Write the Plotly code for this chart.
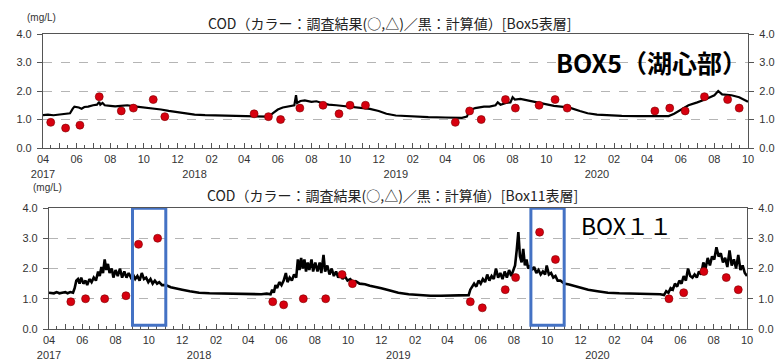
import plotly.graph_objects as go
import pandas as pd

# ---------------- data ----------------
y_tickvals = [0, 1, 2, 3, 4]
y_ticktext = ["0.0", "1.0", "2.0", "3.0", "4.0"]

title_box5 = "COD（カラー：調査結果(○,△)／黒：計算値）[Box5表層]"
title_box11 = "COD（カラー：調査結果(○,△)／黒：計算値）[Box11表層]"
label_box5 = "BOX5（湖心部）"
label_box11 = "BOX１１"
unit_label = "(mg/L)"

# BOX5 observations (red dots)
box5_obs_dates = ["2017-04-15", "2017-05-12", "2017-06-07", "2017-07-12", "2017-08-21", "2017-09-12",
                  "2017-10-18", "2017-11-08", "2018-04-19", "2018-05-15", "2018-06-06", "2018-07-11",
                  "2018-08-22", "2018-09-20", "2018-10-10", "2018-11-07", "2019-04-19", "2019-05-15",
                  "2019-06-05", "2019-07-19", "2019-08-06", "2019-09-18", "2019-10-17", "2019-11-08",
                  "2020-04-15", "2020-05-12", "2020-06-09", "2020-07-14", "2020-08-25", "2020-09-15"]
box5_obs = [0.9, 0.7, 0.8, 1.8, 1.3, 1.4, 1.7, 1.1, 1.2, 1.1, 1.0, 1.4,
            1.5, 1.2, 1.5, 1.5, 0.9, 1.3, 1.0, 1.7, 1.4, 1.5, 1.7, 1.4,
            1.3, 1.4, 1.3, 1.8, 1.7, 1.4]

# BOX5 simulated (black line)
box5_calc_dates = ["2017-04-01", "2017-04-10", "2017-04-20", "2017-05-01", "2017-05-15", "2017-05-20",
                   "2017-05-25", "2017-05-28", "2017-06-05", "2017-06-10", "2017-06-15", "2017-06-22",
                   "2017-07-01", "2017-07-08", "2017-07-12", "2017-07-14", "2017-07-18", "2017-07-22",
                   "2017-08-01", "2017-08-10", "2017-08-20", "2017-09-01", "2017-09-10", "2017-09-20",
                   "2017-10-01", "2017-10-15", "2017-11-01", "2017-11-15", "2017-12-01", "2017-12-15",
                   "2018-01-01", "2018-01-20", "2018-02-10", "2018-03-01", "2018-03-20", "2018-04-10",
                   "2018-05-01", "2018-05-15", "2018-05-25", "2018-06-01", "2018-06-10", "2018-06-20",
                   "2018-07-01", "2018-07-04", "2018-07-06", "2018-07-12", "2018-07-20", "2018-08-01",
                   "2018-08-10", "2018-08-20", "2018-09-01", "2018-09-15", "2018-10-01", "2018-10-15",
                   "2018-11-01", "2018-11-15", "2018-12-01", "2018-12-15", "2019-01-01", "2019-02-01",
                   "2019-03-01", "2019-04-01", "2019-05-01", "2019-05-10", "2019-05-15", "2019-05-25",
                   "2019-06-01", "2019-06-10", "2019-06-20", "2019-07-01", "2019-07-05", "2019-07-10",
                   "2019-07-20", "2019-07-28", "2019-08-01", "2019-08-05", "2019-08-15", "2019-09-01",
                   "2019-09-15", "2019-10-01", "2019-10-15", "2019-11-01", "2019-11-15", "2019-12-01",
                   "2019-12-15", "2020-01-01", "2020-01-20", "2020-02-15", "2020-03-15", "2020-04-15",
                   "2020-05-01", "2020-05-10", "2020-05-20", "2020-06-01", "2020-06-15", "2020-07-01",
                   "2020-07-15", "2020-08-01", "2020-08-08", "2020-08-15", "2020-09-01", "2020-09-15",
                   "2020-10-01"]
box5_calc = [1.15, 1.17, 1.15, 1.18, 1.2, 1.22,
             1.38, 1.45, 1.42, 1.38, 1.44, 1.45,
             1.5, 1.52, 1.62, 1.52, 1.58, 1.5,
             1.48, 1.46, 1.48, 1.5, 1.47, 1.45,
             1.43, 1.4, 1.35, 1.3, 1.25, 1.2,
             1.17, 1.15, 1.14, 1.13, 1.12, 1.12,
             1.11, 1.1, 1.25, 1.35, 1.42, 1.45,
             1.5, 1.85, 1.58, 1.65, 1.67, 1.62,
             1.64, 1.58, 1.52, 1.5, 1.47, 1.44,
             1.4, 1.37, 1.3, 1.2, 1.14, 1.1,
             1.08, 1.07, 1.06, 1.1, 1.32, 1.4,
             1.42, 1.45, 1.45, 1.5, 1.6, 1.52,
             1.58, 1.6, 1.78, 1.7, 1.72, 1.65,
             1.6, 1.52, 1.48, 1.44, 1.4, 1.3,
             1.22, 1.17, 1.15, 1.13, 1.12, 1.12,
             1.1, 1.12, 1.2, 1.35, 1.5, 1.6,
             1.7, 1.85, 2.0, 1.88, 1.85, 1.78,
             1.62]

# BOX11 observations (red dots)
box11_obs_dates = ["2017-05-11", "2017-06-07", "2017-07-12", "2017-08-20", "2017-09-12", "2017-10-17",
                   "2018-05-16", "2018-06-05", "2018-07-11", "2018-08-21", "2018-09-20", "2018-10-09",
                   "2019-05-13", "2019-06-04", "2019-07-16", "2019-08-04", "2019-09-17", "2019-10-16",
                   "2020-05-11", "2020-06-07", "2020-07-14", "2020-08-24", "2020-09-15"]
box11_obs = [0.9, 1.0, 1.0, 1.1, 2.8, 3.0,
             0.9, 0.8, 1.0, 1.0, 1.8, 1.5,
             0.9, 0.7, 1.3, 1.7, 3.2, 2.3,
             1.0, 1.2, 1.9, 1.7, 1.3]

# BOX11 simulated (black line)
box11_calc_dates = [
    "2017-04-01", "2017-04-10", "2017-04-15", "2017-04-20", "2017-04-25", "2017-05-01", "2017-05-05",
    "2017-05-10", "2017-05-15", "2017-05-18", "2017-05-21", "2017-05-24", "2017-05-27", "2017-05-30",
    "2017-06-03", "2017-06-07", "2017-06-10", "2017-06-14", "2017-06-18", "2017-06-22", "2017-06-26",
    "2017-06-30", "2017-07-03", "2017-07-06", "2017-07-09", "2017-07-12", "2017-07-15", "2017-07-18",
    "2017-07-21", "2017-07-25", "2017-07-28", "2017-08-01", "2017-08-05", "2017-08-09", "2017-08-13",
    "2017-08-17", "2017-08-21", "2017-08-25", "2017-08-29", "2017-09-02", "2017-09-06", "2017-09-10",
    "2017-09-14", "2017-09-18", "2017-09-22", "2017-09-26", "2017-09-30", "2017-10-04", "2017-10-08",
    "2017-10-12", "2017-10-16", "2017-10-20", "2017-10-25", "2017-11-01", "2017-11-10", "2017-11-20",
    "2017-12-01", "2017-12-15", "2018-01-01", "2018-01-20", "2018-02-10", "2018-03-01", "2018-03-20",
    "2018-04-10", "2018-04-25", "2018-05-05", "2018-05-12", "2018-05-15", "2018-05-18", "2018-05-21",
    "2018-05-24", "2018-05-28", "2018-06-01", "2018-06-05", "2018-06-09", "2018-06-12", "2018-06-16",
    "2018-06-20", "2018-06-24", "2018-06-28", "2018-07-01", "2018-07-04", "2018-07-07", "2018-07-10",
    "2018-07-13", "2018-07-16", "2018-07-19", "2018-07-22", "2018-07-26", "2018-07-29", "2018-08-02",
    "2018-08-06", "2018-08-10", "2018-08-13", "2018-08-17", "2018-08-20", "2018-08-24", "2018-08-28",
    "2018-09-01", "2018-09-05", "2018-09-09", "2018-09-13", "2018-09-17", "2018-09-21", "2018-09-25",
    "2018-09-30", "2018-10-05", "2018-10-10", "2018-10-15", "2018-10-22", "2018-11-01", "2018-11-10",
    "2018-11-20", "2018-12-01", "2018-12-15", "2019-01-01", "2019-01-20", "2019-02-10", "2019-03-01",
    "2019-03-20", "2019-04-10", "2019-04-25", "2019-05-05", "2019-05-10", "2019-05-13", "2019-05-16",
    "2019-05-20", "2019-05-24", "2019-05-28", "2019-06-01", "2019-06-05", "2019-06-09", "2019-06-13",
    "2019-06-17", "2019-06-21", "2019-06-25", "2019-06-29", "2019-07-03", "2019-07-07", "2019-07-11",
    "2019-07-15", "2019-07-19", "2019-07-23", "2019-07-27", "2019-07-31", "2019-08-03", "2019-08-06",
    "2019-08-09", "2019-08-12", "2019-08-15", "2019-08-18", "2019-08-21", "2019-08-24", "2019-08-27",
    "2019-08-31", "2019-09-03", "2019-09-07", "2019-09-11", "2019-09-15", "2019-09-19", "2019-09-23",
    "2019-09-27", "2019-09-30", "2019-10-04", "2019-10-08", "2019-10-12", "2019-10-16", "2019-10-20",
    "2019-10-25", "2019-11-01", "2019-11-10", "2019-11-20", "2019-12-01", "2019-12-15", "2020-01-01",
    "2020-01-20", "2020-02-10", "2020-03-01", "2020-03-20", "2020-04-10", "2020-04-25", "2020-05-02",
    "2020-05-06", "2020-05-10", "2020-05-14", "2020-05-18", "2020-05-22", "2020-05-26", "2020-05-30",
    "2020-06-03", "2020-06-07", "2020-06-11", "2020-06-15", "2020-06-19", "2020-06-23", "2020-06-27",
    "2020-07-01", "2020-07-05", "2020-07-09", "2020-07-13", "2020-07-17", "2020-07-21", "2020-07-25",
    "2020-07-29", "2020-08-02", "2020-08-06", "2020-08-10", "2020-08-14", "2020-08-18", "2020-08-22",
    "2020-08-26", "2020-08-30", "2020-09-03", "2020-09-07", "2020-09-11", "2020-09-15", "2020-09-19",
    "2020-09-23", "2020-09-27", "2020-10-01"]
box11_calc = [
    1.2, 1.18, 1.22, 1.18, 1.2, 1.22, 1.18,
    1.22, 1.2, 1.35, 1.6, 1.65, 1.5, 1.7,
    1.5, 1.6, 1.45, 1.65, 1.55, 1.7, 1.6,
    1.9, 1.75, 2.05, 1.85, 2.3, 1.95, 2.15,
    1.85, 2.0, 1.7, 1.95, 1.75, 2.0, 1.7,
    1.9, 1.7, 1.85, 1.7, 1.8, 1.65, 1.75,
    1.6, 1.85, 1.65, 1.7, 1.55, 1.65, 1.5,
    1.6, 1.5, 1.55, 1.45, 1.45, 1.38, 1.35,
    1.3, 1.25, 1.2, 1.18, 1.17, 1.16, 1.15,
    1.15, 1.15, 1.17, 1.15, 1.3, 1.2, 1.45,
    1.35, 1.55, 1.45, 1.6, 1.85, 1.55, 1.7,
    1.6, 1.8, 1.7, 2.3, 1.95, 2.35, 2.0,
    2.3, 1.9, 2.2, 1.95, 2.3, 1.9, 2.2,
    1.9, 2.2, 1.85, 2.45, 1.9, 2.1, 1.8,
    2.0, 1.75, 1.9, 1.7, 1.85, 1.65, 1.75,
    1.6, 1.65, 1.55, 1.58, 1.5, 1.48, 1.43,
    1.4, 1.35, 1.28, 1.2, 1.15, 1.12, 1.1,
    1.1, 1.1, 1.1, 1.12, 1.12, 1.3, 1.4,
    1.5, 1.4, 1.6, 1.5, 1.65, 1.55, 1.8,
    1.6, 1.75, 1.65, 2.0, 1.7, 1.85, 1.65,
    1.9, 1.7, 1.95, 1.75, 2.0, 2.1, 2.6,
    3.2, 2.4, 2.2, 2.65, 2.1, 2.3, 2.0,
    2.1, 1.95, 2.05, 1.85, 1.95, 1.8, 1.9,
    1.8, 2.1, 1.8, 1.85, 1.7, 1.75, 1.6,
    1.6, 1.5, 1.47, 1.42, 1.37, 1.3, 1.25,
    1.2, 1.18, 1.17, 1.16, 1.15, 1.15, 1.12,
    1.25, 1.2, 1.35, 1.3, 1.5, 1.4, 1.6,
    1.5, 1.75, 1.6, 2.0, 1.75, 1.7, 1.8,
    1.7, 1.9, 1.8, 2.2, 2.0, 2.35, 2.1,
    2.4, 2.3, 2.7, 2.4, 2.5, 2.2, 2.35,
    2.05, 2.6, 2.1, 2.3, 2.0, 2.45, 1.95,
    2.1, 1.85, 1.75]

x_start, x_end = "2017-04-01", "2020-10-01"

# ---------------- ticks ----------------
months = pd.date_range(x_start, x_end, freq="MS")
mid_months = [d + pd.Timedelta(days=14) for d in months[:-1]]
x_ticktext = []
for i, d in enumerate(months):
    if i == 0:
        x_ticktext.append(f"{d.month:02d}<br>{d.year}")
    elif d.month == 1:
        x_ticktext.append(f"\u00a0<br>{d.year}")
    elif d.month % 2 == 0:
        x_ticktext.append(f"{d.month:02d}")
    else:
        x_ticktext.append("")

W, H = 778, 363
TICKFONT = dict(family="Liberation Sans, Arial, sans-serif", size=11, color="#333333")
JPFONT = "Noto Sans CJK JP, sans-serif"
AXC = "#555555"

fig = go.Figure()

def add_panel(xa, ya_line, ya_pts, dates_c, vals_c, dates_o, vals_o, lw):
    fig.add_trace(go.Scatter(x=dates_c, y=vals_c, mode="lines",
                             line=dict(color="black", width=lw),
                             xaxis=xa, yaxis=ya_line, showlegend=False, hoverinfo="skip"))
    fig.add_trace(go.Scatter(x=dates_o, y=vals_o, mode="markers",
                             marker=dict(color="#d7000f", size=8, line=dict(color="#7a0000", width=0.6)),
                             xaxis=xa, yaxis=ya_pts, showlegend=False))

add_panel("x", "y", "y3", box5_calc_dates, box5_calc, box5_obs_dates, box5_obs, 2.2)
add_panel("x2", "y2", "y4", box11_calc_dates, box11_calc, box11_obs_dates, box11_obs, 2.6)

def px_x(p):
    return p / W

def px_y(p):
    return 1 - p / H

def xaxis_cfg(dom, anchor):
    return dict(domain=dom, anchor=anchor, type="date", range=[x_start, x_end],
                tickmode="array", tickvals=list(months), ticktext=x_ticktext,
                ticks="inside", ticklen=5, tickwidth=1, tickcolor=AXC,
                minor=dict(tickmode="array", tickvals=mid_months, ticks="inside",
                           ticklen=2.5, tickwidth=1, tickcolor=AXC, showgrid=False),
                showline=True, linecolor=AXC, linewidth=1.2, mirror=True,
                showgrid=False, zeroline=False, tickfont=TICKFONT, tickangle=0,
                ticklabelstandoff=1, automargin=False)

def yaxis_cfg(dom, anchor, side="left", overlay=None):
    d = dict(domain=dom, anchor=anchor, range=[0, 4], tickmode="array",
             tickvals=y_tickvals, ticktext=y_ticktext, side=side,
             ticks="outside", ticklen=5, tickwidth=1, tickcolor=AXC,
             showline=True, linecolor=AXC, linewidth=1.2,
             zeroline=False, tickfont=TICKFONT, ticklabelstandoff=3, automargin=False)
    if overlay:
        d.update(overlaying=overlay, showgrid=False)
    else:
        d.update(showgrid=True, gridcolor="#b5b5b5", griddash="dash", gridwidth=1)
    return d

fig.update_layout(
    width=W, height=H, margin=dict(l=0, r=0, t=0, b=0),
    paper_bgcolor="white", plot_bgcolor="white",
    xaxis=xaxis_cfg([px_x(43), px_x(748)], "y"),
    yaxis=yaxis_cfg([px_y(148), px_y(34)], "x"),
    yaxis3=yaxis_cfg([px_y(148), px_y(34)], "x", side="right", overlay="y"),
    xaxis2=xaxis_cfg([px_x(49), px_x(747)], "y2"),
    yaxis2=yaxis_cfg([px_y(329), px_y(208)], "x2"),
    yaxis4=yaxis_cfg([px_y(329), px_y(208)], "x2", side="right", overlay="y2"),
)

# highlight rectangles
for a, b in [("2017-09-01", "2017-11-01"), ("2019-09-01", "2019-11-01")]:
    fig.add_shape(type="rect", xref="x2", yref="y2", x0=a, x1=b, y0=0.12, y1=3.99,
                  line=dict(color="#4472c4", width=3), fillcolor="rgba(0,0,0,0)", layer="above")

def note(text, cx, cy, font):
    return dict(text=text, x=px_x(cx), y=px_y(cy), xref="paper", yref="paper",
                xanchor="center", yanchor="middle", showarrow=False, font=font)

ann = [
    note(title_box5, 390, 23, dict(family=JPFONT, size=14, color="#222222")),
    note(title_box11, 392, 195, dict(family=JPFONT, size=14, color="#222222")),
    note(unit_label, 41, 17, dict(family="Liberation Sans, Arial", size=10, color="#333333")),
    note(unit_label, 47, 187, dict(family="Liberation Sans, Arial", size=10, color="#333333")),
    note("<b>" + label_box5 + "</b>", 651, 62, dict(family=JPFONT, size=25, color="black")),
    note(label_box11, 626, 225, dict(family=JPFONT, size=23, color="black")),
]
fig.update_layout(annotations=ann)

fig.write_html("out.html", config={"displayModeBar": False},
               post_script="document.body.style.margin='0px';")
